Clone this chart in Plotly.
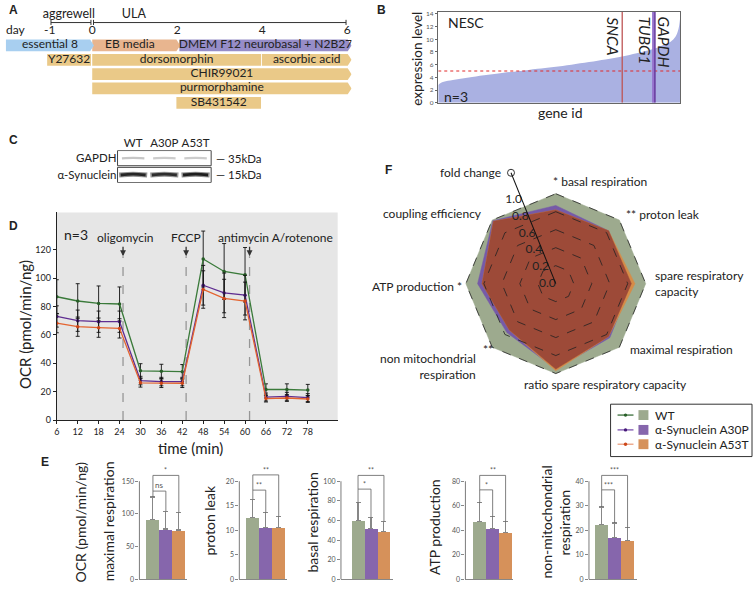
import plotly.graph_objects as go

W, H = 755, 593
FONT = "Lato"
TXT = "#222222"

def px_x(p):
    return p / W

def px_y(p):
    return 1 - p / H

def dom_x(a, b):
    return [a / W, b / W]

def dom_y(top, bot):
    return [1 - bot / H, 1 - top / H]

# ---------------- data ----------------
# A: differentiation timeline (days)
A_labels = ["essential 8", "EB media", "DMEM F12 neurobasal + N2B27", "Y27632", "dorsomorphin",
            "ascorbic acid", "CHIR99021", "purmorphamine", "SB431542"]
A_start = [-2.03, 0.0, 2.05, -1.06, 0.0, 3.99, 0.0, 0.0, 1.98]
A_end = [0.04, 2.07, 6.1, -0.03, 3.97, 6.1, 6.1, 6.1, 3.97]
A_row = [0, 0, 0, 1, 1, 1, 2, 3, 4]
A_arrow = [True, True, True, False, False, True, True, True, False]
A_kind = ["e8", "eb", "dmem", "drug", "drug", "drug", "drug", "drug", "drug"]
A_days = [-1, 0, 2, 4, 6]
A_phases = ["aggrewell", "ULA"]
A_phase_start = [-1, 0]
A_phase_end = [0, 6]

# B: ranked expression
B_gene_frac = [0, 0.01, 0.04, 0.14, 0.27, 0.34, 0.41, 0.55, 0.69, 0.76, 0.82, 0.89, 0.93, 0.96, 0.98, 0.993, 1.0]
B_expr = [2.8, 3.1, 3.45, 4.07, 4.73, 5.0, 5.35, 6.0, 6.8, 7.3, 7.8, 8.5, 9.1, 9.6, 10.4, 11.7, 13.7]
B_threshold = 5
B_genes = ["SNCA", "TUBG1", "GAPDH"]
B_gene_pos = [0.76, 0.888, 0.895]
B_yticks = [0, 2, 4, 6, 8, 10, 12, 14]

# C: western blot
C_lanes = ["WT", "A30P", "A53T"]
C_proteins = ["GAPDH", "α-Synuclein"]
C_kda = ["35kDa", "15kDa"]
C_gapdh_int = [0.22, 0.2, 0.2]
C_syn_int = [0.85, 0.82, 0.88]

# D: Seahorse OCR time course
D_time = [6, 12, 18, 24, 30, 36, 42, 48, 54, 60, 66, 72, 78]
D_wt = [86.9, 83.9, 82.2, 81.8, 34.7, 34.3, 34.1, 113.5, 104.7, 102.4, 21.5, 21.5, 21.1]
D_a30p = [73.0, 70.0, 69.3, 69.3, 27.8, 27.1, 27.1, 95.0, 89.6, 88.0, 16.2, 16.7, 15.8]
D_a53t = [68.3, 65.8, 65.1, 64.6, 26.2, 25.9, 25.9, 92.0, 85.7, 83.9, 15.1, 15.5, 14.8]
D_wt_err = [12, 12.2, 12.3, 12, 5, 5, 5, 19.7, 19.7, 19.2, 4, 4, 4]
D_a30p_err = [7.5, 7.5, 7.5, 7.5, 3, 3, 3, 14, 14, 14, 2.8, 2.8, 2.8]
D_a53t_err = [6.8, 6.8, 6.8, 6.8, 3, 3, 3, 13.2, 13.5, 13.3, 2.4, 2.4, 2.4]
D_inject_time = [25.0, 43.1, 61.3]
D_inject_label = ["oligomycin", "FCCP", "antimycin A/rotenone"]
D_yticks = [0, 20, 40, 60, 80, 100, 120]

# E: bar charts (WT, A30P, A53T)
E_max = [91, 77, 75.5]
E_max_err = [35, 27, 26.5]
E_leak = [12.6, 10.5, 10.5]
E_leak_err = [3.7, 3.1, 2.3]
E_basal = [60, 52, 49]
E_basal_err = [18, 11, 10]
E_atp = [47.4, 41.5, 38.5]
E_atp_err = [15, 9.5, 8.5]
E_nonmito = [22.2, 17, 16]
E_nonmito_err = [7.3, 6, 5]
E_max_sig = ["ns", "*"]
E_leak_sig = ["**", "**"]
E_basal_sig = ["*", "**"]
E_atp_sig = ["*", "**"]
E_nonmito_sig = ["***", "***"]
E_max_lvl = [135, 159]
E_leak_lvl = [18.2, 21.3]
E_basal_lvl = [92, 106]
E_atp_lvl = [73, 84.8]
E_nonmito_lvl = [36.5, 42.4]
E_max_ticks = [0, 50, 100, 150]
E_leak_ticks = [0, 5, 10, 15, 20]
E_basal_ticks = [0, 20, 40, 60, 80, 100]
E_atp_ticks = [0, 20, 40, 60, 80]
E_nonmito_ticks = [0, 10, 20, 30, 40]

# F: radar (fold change vs WT)
F_axes = ["basal respiration", "proton leak", "spare respiratory capacity", "maximal respiration",
          "ratio spare respiratory capacity", "non mitochondrial respiration", "ATP production",
          "coupling efficiency"]
F_wt = [1, 1, 1, 1, 1, 1, 1, 1]
F_a30p = [0.87, 0.83, 0.84, 0.85, 0.95, 0.77, 0.87, 0.99]
F_a53t = [0.82, 0.83, 0.88, 0.83, 0.97, 0.73, 0.82, 0.98]
F_rticks = [0.0, 0.2, 0.4, 0.6, 0.8, 1.0]

GROUPS = ["WT", "α-Synuclein A30P", "α-Synuclein A53T"]

# ---------------- styles ----------------
A_colors = {"e8": "rgb(168,207,240)", "eb": "rgb(232,181,143)", "dmem": "rgb(150,141,200)",
            "drug": "rgb(234,201,136)"}
BAR_COL = ["rgb(157,170,142)", "rgb(134,102,172)", "rgb(214,145,90)"]
LINE_COL = ["rgb(58,122,58)", "rgb(95,45,145)", "rgb(228,100,48)"]
MARK_COL = ["rgb(40,95,40)", "rgb(70,25,120)", "rgb(205,70,25)"]

fig = go.Figure()
ann = []
shapes = []


def text_ann(x, y, t, size=12, xanchor="center", yanchor="middle", angle=0, color=TXT, family=FONT,
             xref="paper", yref="paper", **kw):
    d = dict(x=x, y=y, text=t, showarrow=False, xref=xref, yref=yref, xanchor=xanchor, yanchor=yanchor,
             textangle=angle, font=dict(size=size, color=color, family=family))
    d.update(kw)
    ann.append(d)

# ---------------- Panel A ----------------
A_half = 0.41
A_tip = 0.09
for i in reversed(range(len(A_labels))):
    s, e, r = A_start[i], A_end[i], A_row[i]
    if A_arrow[i]:
        xs = [s, e - A_tip, e, e - A_tip, s, s]
        ys = [r - A_half, r - A_half, r, r + A_half, r + A_half, r - A_half]
    else:
        xs = [s, e, e, s, s]
        ys = [r - A_half, r - A_half, r + A_half, r + A_half, r - A_half]
    fig.add_trace(go.Scatter(x=xs, y=ys, fill="toself", fillcolor=A_colors[A_kind[i]], mode="lines",
                             line=dict(width=0), xaxis="x", yaxis="y", hoverinfo="skip"))
A_text_x = [(s + e) / 2 for s, e in zip(A_start, A_end)]
A_text_x[1] = A_text_x[1] - 0.15
fig.add_trace(go.Scatter(x=A_text_x, y=A_row, mode="text", text=A_labels,
                         textfont=dict(size=12, color=TXT, family=FONT), xaxis="x", yaxis="y",
                         hoverinfo="skip"))
# day labels
A_day_row = -1.0
fig.add_trace(go.Scatter(x=A_days, y=[A_day_row] * len(A_days), mode="text", text=[str(d) for d in A_days],
                         textfont=dict(size=12, color=TXT, family=FONT), xaxis="x", yaxis="y"))
fig.add_trace(go.Scatter(x=[-2.03], y=[A_day_row], mode="text", text=["day"], textposition="middle right",
                         textfont=dict(size=12, color=TXT, family=FONT), xaxis="x", yaxis="y"))
# phase brackets
brk_y = -1.6
bx, by = [], []
for s, e in zip(A_phase_start, A_phase_end):
    s2, e2 = s + 0.03, e - 0.03
    bx += [s2, e2, None, s2, s2, None, e2, e2, None]
    by += [brk_y, brk_y, None, brk_y - 0.19, brk_y + 0.17, None, brk_y - 0.19, brk_y + 0.17, None]
fig.add_trace(go.Scatter(x=bx, y=by, mode="lines", line=dict(color="#333", width=1), xaxis="x", yaxis="y"))
fig.add_trace(go.Scatter(x=[-0.55, 0.98], y=[-2.15, -2.15], mode="text", text=A_phases,
                         textfont=dict(size=12.5, color=TXT, family=FONT), xaxis="x", yaxis="y"))

# ---------------- Panel B ----------------
fig.add_trace(go.Scatter(x=B_gene_frac, y=B_expr, fill="tozeroy", fillcolor="rgb(170,177,226)",
                         mode="lines", line=dict(width=0, shape="spline"), xaxis="x2", yaxis="y2"))
fig.add_trace(go.Scatter(x=[0, 1], y=[B_threshold, B_threshold], mode="lines",
                         line=dict(color="rgb(225,40,40)", width=1, dash="dot"), xaxis="x2", yaxis="y2"))
B_line_col = ["rgb(190,85,85)", "rgb(150,115,205)", "rgb(105,60,160)"]
B_line_w = [1.3, 2.2, 1.6]
for g, p, c, w in zip(B_genes, B_gene_pos, B_line_col, B_line_w):
    fig.add_trace(go.Scatter(x=[p, p], y=[0, 14.3], mode="lines", line=dict(color=c, width=w),
                             xaxis="x2", yaxis="y2"))
B_shift = [-10, -8, 9]
for g, p, s in zip(B_genes, B_gene_pos, B_shift):
    text_ann(p, px_y(13), "<i>" + g + "</i>", size=15.5, angle=90, xref="x2", yanchor="top", xshift=s)
text_ann(px_x(445), px_y(21), "NESC", size=14, xanchor="left")
text_ann(px_x(441), px_y(96), "n=3", size=14, xanchor="left")
text_ann(px_x(416), px_y(57), "expression level", size=13.5, angle=-90)
text_ann(px_x(560), px_y(112), "gene id", size=14)

# ---------------- Panel C ----------------
for i, v in enumerate(C_gapdh_int):
    g = int(255 * (1 - v))
    fig.add_trace(go.Scatter(x=[i - 0.36, i, i + 0.36], y=[0, -0.03, 0], mode="lines",
                             line=dict(color=f"rgb({g},{g},{g})", width=2.2, shape="spline"),
                             xaxis="x3", yaxis="y3"))
for i, v in enumerate(C_syn_int):
    g = int(255 * (1 - v))
    g2 = int(255 * (1 - v * 0.5))
    fig.add_trace(go.Scatter(x=[i - 0.45, i, i + 0.45], y=[1.02, 0.97, 1.02], mode="lines",
                             line=dict(color=f"rgb({g2},{g2},{g2})", width=5, shape="spline"),
                             xaxis="x3", yaxis="y3"))
    fig.add_trace(go.Scatter(x=[i - 0.4, i, i + 0.4], y=[1.02, 0.97, 1.02], mode="lines",
                             line=dict(color=f"rgb({g},{g},{g})", width=2.8, shape="spline"),
                             xaxis="x3", yaxis="y3"))
shapes.append(dict(type="rect", xref="x3 domain", yref="y3", x0=0, x1=1, y0=-0.48, y1=0.45,
                   line=dict(color="#444", width=1)))
shapes.append(dict(type="rect", xref="x3 domain", yref="y3", x0=0, x1=1, y0=0.55, y1=1.48,
                   line=dict(color="#444", width=1)))
for j, k in enumerate(C_kda):
    text_ann(1, j, "— " + k, size=11.5, xref="x3 domain", yref="y3", xanchor="left", xshift=3)

# ---------------- Panel D ----------------
shapes.append(dict(type="rect", xref="x4 domain", yref="y4 domain", x0=0, x1=1, y0=0, y1=1,
                   fillcolor="rgb(230,230,230)", line=dict(width=0), layer="below"))
arrow_tip = 115.5
for t in D_inject_time:
    fig.add_trace(go.Scatter(x=[t, t], y=[0, arrow_tip], mode="lines",
                             line=dict(color="rgb(150,150,150)", width=1.3, dash="dash"),
                             xaxis="x4", yaxis="y4"))
    ann.append(dict(x=t, y=arrow_tip, xref="x4", yref="y4", ax=0, ay=-11, showarrow=True, arrowhead=2,
                    arrowsize=0.9, arrowwidth=1.3, arrowcolor="#333", text=""))
for vals, errs, lc, mc in zip([D_wt, D_a30p, D_a53t], [D_wt_err, D_a30p_err, D_a53t_err], LINE_COL, MARK_COL):
    fig.add_trace(go.Scatter(x=D_time, y=vals, mode="lines+markers", line=dict(color=lc, width=1.3),
                             marker=dict(color=mc, size=3.5),
                             error_y=dict(type="data", array=errs, color="#111", thickness=0.9, width=2),
                             xaxis="x4", yaxis="y4"))
D_lab_shift = [2, 0, 26]
for t, lab, s in zip(D_inject_time, D_inject_label, D_lab_shift):
    text_ann(t, px_y(238), lab, size=12, xref="x4", xshift=s)
text_ann(px_x(59), px_y(235), "n=3", size=14, xanchor="left")
text_ann(px_x(22), px_y(326), "OCR (pmol/min/ng)", size=15, angle=-90)
text_ann(px_x(188), px_y(451), "time (min)", size=15)

# ---------------- Panel E ----------------
E_means = [E_max, E_leak, E_basal, E_atp, E_nonmito]
E_errs = [E_max_err, E_leak_err, E_basal_err, E_atp_err, E_nonmito_err]
E_sigs = [E_max_sig, E_leak_sig, E_basal_sig, E_atp_sig, E_nonmito_sig]
E_lvls = [E_max_lvl, E_leak_lvl, E_basal_lvl, E_atp_lvl, E_nonmito_lvl]
E_ticks = [E_max_ticks, E_leak_ticks, E_basal_ticks, E_atp_ticks, E_nonmito_ticks]
E_left = [137, 237.3, 339.3, 464.3, 588.3]
E_width = [48, 48, 52, 48, 48]
E_rng_left = [-1.04, -1.04, -1.32, -1.1, -0.98]
E_top_px, E_bot_px = 465, 584.3
E_scale = (E_bot_px - E_top_px) / (E_bot_px - 485)
for k in range(5):
    xa, ya = f"x{5 + k}", f"y{5 + k}"
    m, e = E_means[k], E_errs[k]
    fig.add_trace(go.Bar(x=[0, 1, 2], y=m, width=1, marker=dict(color=BAR_COL, line=dict(width=0)),
                         error_y=dict(type="data", symmetric=False, array=e, arrayminus=[0, 0, 0],
                                      color="rgb(135,135,135)", thickness=1.1, width=2.5),
                         xaxis=xa, yaxis=ya))
    tops = [mi + ei for mi, ei in zip(m, e)]
    l1, l2 = E_lvls[k]
    fig.add_trace(go.Scatter(x=[0, 0, 1, 1, None, 0, 0, 2, 2], y=[tops[0], l1, l1, tops[1], None, l1, l2, l2, tops[2]],
                             mode="lines", line=dict(color="rgb(95,95,95)", width=0.8),
                             xaxis=xa, yaxis=ya))
    s1, s2 = E_sigs[k]
    text_ann(0.5, l1, s1, size=7 if s1 != "ns" else 8, xref=xa, yref=ya, yanchor="bottom",
             color="#555", yshift=-1)
    text_ann(1.0, l2, s2, size=7, xref=xa, yref=ya, yanchor="bottom", color="#555", yshift=-1)
    shapes.append(dict(type="line", xref=f"{xa} domain", yref=ya, x0=0, x1=0, y0=0, y1=E_ticks[k][-1],
                       line=dict(color="rgb(135,135,135)", width=1.1)))

E_ylab = [("OCR (pmol/min/ng)", 78, 526), ("maximal respiration", 106, 526), ("proton leak", 207.5, 525),
          ("basal respiration", 311, 527), ("ATP production", 433, 531), ("non-mitochondrial", 546, 526),
          ("respiration", 564, 527)]
for t, x, y in E_ylab:
    text_ann(px_x(x), px_y(y), t, size=14, angle=-90)

# ---------------- Panel F ----------------
def closed(v):
    return list(v) + [v[0]]

F_theta = closed([90 - 45 * i for i in range(len(F_axes))])
F_min = [min(a, b) for a, b in zip(F_a30p, F_a53t)]
F_radial_angle = 112
fig.add_trace(go.Scatterpolar(r=closed(F_wt), theta=F_theta, fill="toself", fillcolor="rgb(157,170,142)",
                              mode="lines", line=dict(color="rgb(157,170,142)", width=0.5), name=GROUPS[0]))
fig.add_trace(go.Scatterpolar(r=closed(F_a30p), theta=F_theta, fill="toself", fillcolor="rgb(118,90,168)",
                              mode="lines", line=dict(color="rgb(118,90,168)", width=0.5), name=GROUPS[1]))
fig.add_trace(go.Scatterpolar(r=closed(F_a53t), theta=F_theta, fill="toself", fillcolor="rgb(214,140,72)",
                              mode="lines", line=dict(color="rgb(214,140,72)", width=0.5), name=GROUPS[2]))
fig.add_trace(go.Scatterpolar(r=closed(F_min), theta=F_theta, fill="toself", fillcolor="rgb(157,74,56)",
                              mode="lines", line=dict(color="rgb(157,74,56)", width=0.5)))
for t in F_rticks[1:]:
    fig.add_trace(go.Scatterpolar(r=[t] * len(F_theta), theta=F_theta, mode="lines",
                                  line=dict(color="#222", width=0.8, dash="dash")))
fig.add_trace(go.Scatterpolar(r=F_rticks, theta=[F_radial_angle] * len(F_rticks), mode="text",
                              text=[f"{t:.1f}" for t in F_rticks], textposition="middle left", cliponaxis=False,
                              textfont=dict(size=12, color=TXT, family=FONT)))
fig.add_trace(go.Scatterpolar(r=[1.33], theta=[F_radial_angle], mode="markers", cliponaxis=False,
                              marker=dict(symbol="circle", size=7, color="white",
                                          line=dict(color="#333", width=1))))

F_lab = [("* basal respiration", 550, 182, "left"), ("** proton leak", 623, 215.5, "left"),
         ("spare respiratory<br>capacity", 653, 285, "left"), ("maximal respiration", 627, 352, "left"),
         ("ratio spare respiratory capacity", 605, 387, "center"),
         ("non mitochondrial<br>respiration", 477, 369, "right"), ("ATP production *", 463, 288, "right"),
         ("coupling efficiency", 483, 214, "right"), ("fold change", 502, 173, "right")]
for t, x, y, xa_ in F_lab:
    text_ann(px_x(x), px_y(y), t, size=12, xanchor=xa_, align=xa_)
text_ann(px_x(480), px_y(352), "**", size=12, xanchor="left")

# legend
shapes.append(dict(type="rect", xref="paper", yref="paper", x0=px_x(610), x1=px_x(752), y0=px_y(460),
                   y1=px_y(407), line=dict(color="#333", width=1)))
LEG_LINE = ["rgb(58,110,58)", "rgb(125,85,175)", "rgb(235,160,128)"]
for i, (g, yy) in enumerate(zip(GROUPS, [418, 433, 447.5])):
    shapes.append(dict(type="line", xref="paper", yref="paper", x0=px_x(617), x1=px_x(633), y0=px_y(yy),
                       y1=px_y(yy), line=dict(color=LEG_LINE[i], width=1.3)))
    shapes.append(dict(type="circle", xref="paper", yref="paper", x0=px_x(623.3), x1=px_x(626.7),
                       y0=px_y(yy + 1.7), y1=px_y(yy - 1.7), line=dict(width=0), fillcolor=MARK_COL[i]))
    shapes.append(dict(type="rect", xref="paper", yref="paper", x0=px_x(638), x1=px_x(648), y0=px_y(yy + 5),
                       y1=px_y(yy - 5), line=dict(width=0), fillcolor=BAR_COL[i]))
    text_ann(px_x(653), px_y(yy), g, size=12, xanchor="left")

# panel letters
for L, x, y in [("A", 4, 8), ("B", 373, 8), ("C", 4, 140), ("D", 4, 227), ("E", 36, 466), ("F", 382, 170)]:
    text_ann(px_x(x), px_y(y), "<b>" + L + "</b>", size=12, xanchor="left", family="Liberation Sans")

# ---------------- layout ----------------
noax = dict(visible=False, showgrid=False, zeroline=False)
layout = dict(
    width=W, height=H, margin=dict(l=0, r=0, t=0, b=0), showlegend=False,
    paper_bgcolor="white", plot_bgcolor="rgba(0,0,0,0)", font=dict(family=FONT, color=TXT),
    xaxis=dict(domain=dom_x(0, 350), range=[-2.0987, 6.1011], anchor="y", **noax),
    yaxis=dict(domain=dom_y(0, 115), range=[4.897, -3.034], anchor="x", **noax),
    xaxis2=dict(domain=dom_x(437, 680), range=[0, 1], anchor="y2", showline=True, mirror=True,
                linecolor="#666", linewidth=0.8, showticklabels=False, ticks="", showgrid=False, zeroline=False),
    yaxis2=dict(domain=dom_y(10, 102), range=[0, 14.3], anchor="x2", showline=True, mirror=True,
                linecolor="#666", linewidth=0.8, tickvals=B_yticks, ticks="outside", ticklen=2.5,
                tickcolor="#666", tickfont=dict(size=6.5, color="#555"), showgrid=False, zeroline=False),
    xaxis3=dict(domain=dom_x(115, 209), range=[-0.5, 2.5], anchor="y3", side="top", tickvals=[0, 1, 2],
                ticktext=C_lanes, ticks="", showline=False, showgrid=False, zeroline=False,
                tickfont=dict(size=11.5, color=TXT)),
    yaxis3=dict(domain=dom_y(150, 183), range=[1.5, -0.5], anchor="x3", tickvals=[0, 1], ticktext=C_proteins,
                ticks="", showline=False, showgrid=False, zeroline=False, tickfont=dict(size=11.5, color=TXT)),
    xaxis4=dict(domain=dom_x(54, 336), range=[6, 86.57], anchor="y4", tickvals=D_time, showline=True,
                linecolor="#222", linewidth=1, ticks="outside", ticklen=3, tickcolor="#222",
                tickfont=dict(size=9, color=TXT), showgrid=False, zeroline=False),
    yaxis4=dict(domain=dom_y(213, 423), range=[0, 146.3], anchor="x4", tickvals=D_yticks, showline=True,
                linecolor="#222", linewidth=1, ticks="outside", ticklen=3, tickcolor="#222",
                tickfont=dict(size=9, color=TXT), showgrid=False, zeroline=False),
    polar=dict(domain=dict(x=dom_x(434, 676), y=dom_y(164, 406)), bgcolor="rgba(0,0,0,0)",
               angularaxis=dict(type="linear", thetaunit="degrees", direction="counterclockwise", rotation=0,
                                showgrid=False, showline=False, showticklabels=False, ticks=""),
               radialaxis=dict(range=[0, 1.33], angle=F_radial_angle, tickvals=F_rticks, showticklabels=False,
                               showgrid=False, showline=True, linecolor="#111", linewidth=1, ticks="")),
    annotations=ann, shapes=shapes, bargap=0,
)
for k in range(5):
    ticks = E_ticks[k]
    layout[f"xaxis{5 + k}"] = dict(domain=dom_x(E_left[k], E_left[k] + E_width[k]),
                                   range=[E_rng_left[k], E_rng_left[k] + E_width[k] / 13.0],
                                   anchor=f"y{5 + k}", showline=True, linecolor="rgb(135,135,135)",
                                   linewidth=1.1, ticks="", showticklabels=False, showgrid=False,
                                   zeroline=False)
    layout[f"yaxis{5 + k}"] = dict(domain=dom_y(E_top_px, E_bot_px), range=[0, ticks[-1] * E_scale],
                                   anchor=f"x{5 + k}", tickvals=ticks, ticks="outside", ticklen=3,
                                   tickcolor="rgb(135,135,135)", tickfont=dict(size=7, color="#555"),
                                   showline=False, showgrid=False, zeroline=False)
fig.update_layout(**layout)
fig.write_html("out.html", config={"displayModeBar": False},
               post_script="document.body.style.margin='0';document.body.style.overflow='hidden';")
